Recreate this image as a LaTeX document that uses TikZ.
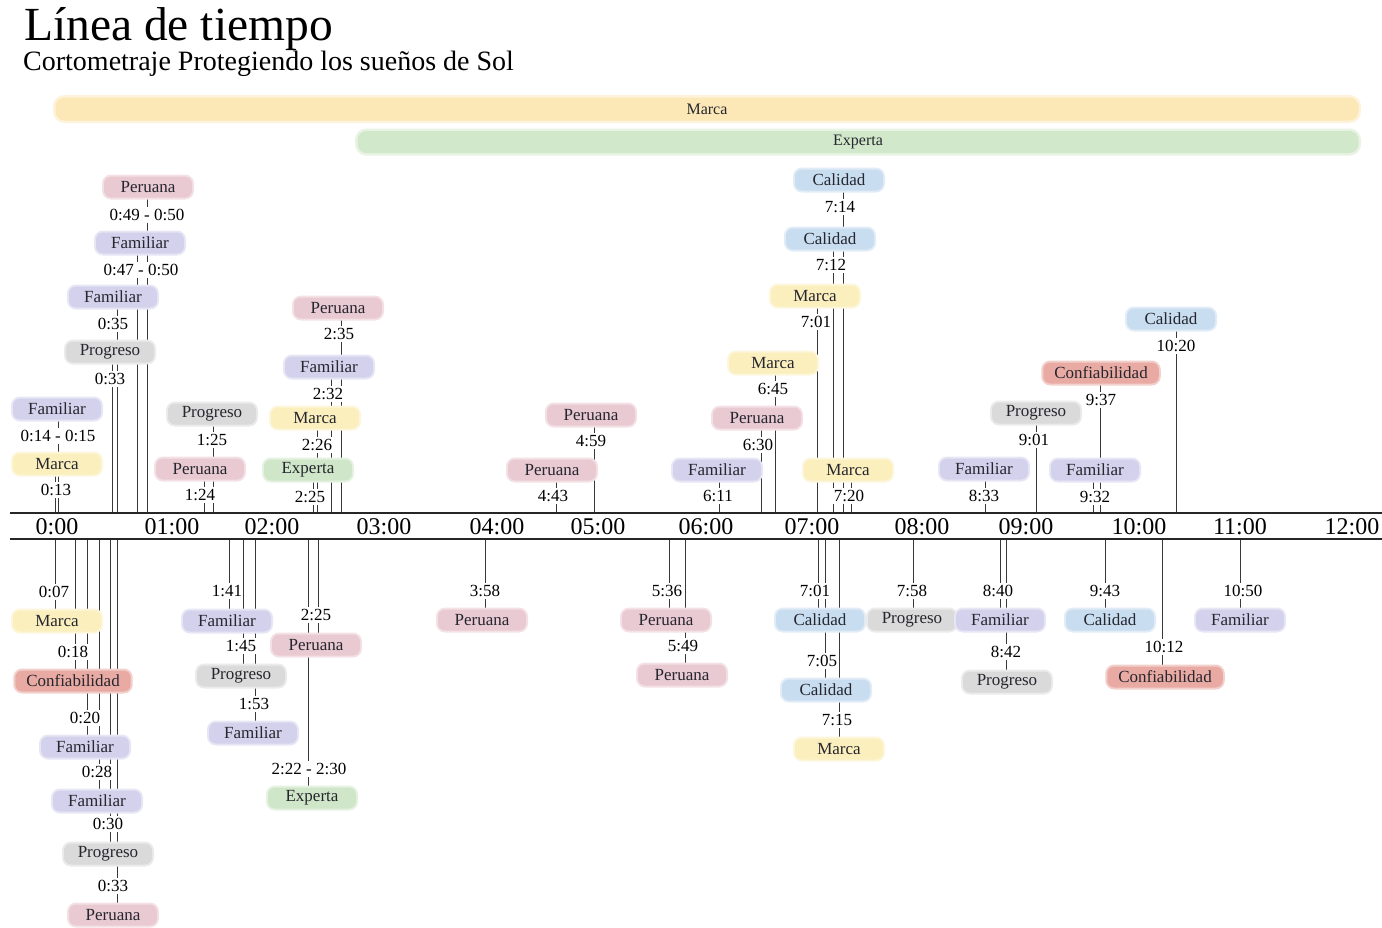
\documentclass[tikz,border=0pt]{standalone}
\usepackage{fontspec}
\setmainfont{Liberation Serif}
\usetikzlibrary{calc}
\pgfdeclarelayer{bg}
\pgfsetlayers{bg,main}
\definecolor{colMarca}{HTML}{FBEFBE}
\definecolor{colExperta}{HTML}{CFE7C8}
\definecolor{colPeruana}{HTML}{E9C9D2}
\definecolor{colFamiliar}{HTML}{D3D1EC}
\definecolor{colProgreso}{HTML}{DADADA}
\definecolor{colCalidad}{HTML}{C8DDF0}
\definecolor{colConfiabilidad}{HTML}{E8AAA3}
\definecolor{bandM}{HTML}{FCE8B6}
\definecolor{bandE}{HTML}{D2E8CA}
\definecolor{evtext}{HTML}{26262E}
\newcommand\evf{\fontsize{17pt}{19pt}\selectfont}
\newcommand\hrf{\fontsize{24pt}{26pt}\selectfont}
\tikzset{
  x=1pt, y=-1pt,
  ev/.style={rounded corners=7pt, minimum height=21pt, minimum width=88pt,
    inner xsep=11pt, inner ysep=0pt, font=\evf, text=evtext},
  cMarca/.style={fill=colMarca, preaction={draw=colMarca!55, line width=4pt}},
  cExperta/.style={fill=colExperta, preaction={draw=colExperta!55, line width=4pt}},
  cPeruana/.style={fill=colPeruana, preaction={draw=colPeruana!55, line width=4pt}},
  cFamiliar/.style={fill=colFamiliar, preaction={draw=colFamiliar!55, line width=4pt}},
  cProgreso/.style={fill=colProgreso, preaction={draw=colProgreso!55, line width=4pt}},
  cCalidad/.style={fill=colCalidad, preaction={draw=colCalidad!55, line width=4pt}},
  cConfiabilidad/.style={fill=colConfiabilidad, preaction={draw=colConfiabilidad!55, line width=4pt}},
  tl/.style={fill=white, inner xsep=1pt, inner ysep=2pt, font=\evf, text=black},
  evline/.style={draw=black!78, line width=1pt},
  axisline/.style={draw=black!85, line width=2pt},
  hour/.style={font=\hrf, text=black, inner sep=0pt},
  band/.style={rounded corners=9pt, inner sep=0pt, font=\fontsize{16pt}{18pt}\selectfont, text=evtext}
}
% #1 id, #2 category, #3 cx, #4 ny, #5 lx, #6 ly, #7 time, #8 line x
\newcommand\EvA[8]{%
  \node[ev,c#2] (n#1) at (#3,#4) {#2};
  \node[tl] (t#1) at (#5,#6) {#7};
  \coordinate (a#1) at (#8,513);
  \begin{pgfonlayer}{bg}\draw[evline] (a#1 |- n#1) -- (a#1);\end{pgfonlayer}
}
\newcommand\EvB[8]{%
  \node[ev,c#2] (n#1) at (#3,#4) {#2};
  \node[tl] (t#1) at (#5,#6) {#7};
  \coordinate (a#1) at (#8,539);
  \begin{pgfonlayer}{bg}\draw[evline] (a#1) -- (a#1 |- n#1);\end{pgfonlayer}
}
\begin{document}
\begin{tikzpicture}
\useasboundingbox (0,0) rectangle (1382,927);
\begin{pgfonlayer}{bg}
\fill[white] (0,0) rectangle (1382,927);
\end{pgfonlayer}

% title
\node[anchor=base west, inner sep=0pt, font=\fontsize{47.5pt}{50pt}\selectfont] (title) at (24,40) {Línea de tiempo};
\node[anchor=base west, inner sep=0pt, font=\fontsize{28pt}{30pt}\selectfont] (subtitle) at (23,70) {Cortometraje Protegiendo los sueños de Sol};

% bands
\node[band, fill=bandM, preaction={draw=bandM!50, line width=5pt}, minimum width=1303pt, minimum height=23pt] (bandMarca) at (707,109) {Marca};
\node[band, fill=bandE, preaction={draw=bandE!50, line width=5pt}, minimum width=1001pt, minimum height=22pt] (bandExperta) at (858,142) {Experta};

% axis
\coordinate (axTL) at (10,513);
\coordinate (axTR) at (1382,513);
\coordinate (axBL) at (10,539);
\coordinate (axBR) at (1382,539);
\draw[axisline] (axTL) -- (axTR);
\draw[axisline] (axBL) -- (axBR);
\foreach \x/\t [count=\i] in {57/0:00,172/01:00,272/02:00,384/03:00,497/04:00,598/05:00,706/06:00,812/07:00,922/08:00,1026/09:00,1139/10:00,1240/11:00,1352/12:00}
  \node[hour] (h\i) at (\x,527) {\t};

% events above the axis
\EvA{A1}{Marca}{57}{464}{56}{490}{0:13}{55}
\EvA{A2}{Familiar}{57}{409}{58}{436}{0:14 - 0:15}{58}
\EvA{A3}{Progreso}{110}{352}{110}{379}{0:33}{112}
\EvA{A4}{Familiar}{113}{297}{113}{324}{0:35}{117}
\EvA{A5}{Familiar}{140}{243}{141}{270}{0:47 - 0:50}{137}
\EvA{A6}{Peruana}{148}{187}{147}{215}{0:49 - 0:50}{147}
\EvA{A7}{Peruana}{200}{469}{200}{495}{1:24}{204}
\EvA{A8}{Progreso}{212}{414}{212}{440}{1:25}{213}
\EvA{A9}{Experta}{308}{470}{310}{497}{2:25}{313}
\EvA{A10}{Marca}{315}{418}{317}{445}{2:26}{317}
\EvA{A11}{Familiar}{329}{367}{328}{394}{2:32}{331}
\EvA{A12}{Peruana}{338}{308}{339}{334}{2:35}{341}
\EvA{A13}{Peruana}{552}{470}{553}{496}{4:43}{556}
\EvA{A14}{Peruana}{591}{415}{591}{441}{4:59}{594}
\EvA{A15}{Familiar}{717}{470}{718}{496}{6:11}{719}
\EvA{A16}{Peruana}{757}{418}{758}{445}{6:30}{761}
\EvA{A17}{Marca}{773}{363}{773}{389}{6:45}{775}
\EvA{A18}{Marca}{815}{296}{816}{322}{7:01}{817}
\EvA{A19}{Calidad}{830}{239}{831}{265}{7:12}{833}
\EvA{A20}{Calidad}{839}{180}{840}{207}{7:14}{843}
\EvA{A21}{Marca}{848}{470}{849}{496}{7:20}{851}
\EvA{A22}{Familiar}{984}{469}{984}{496}{8:33}{985}
\EvA{A23}{Progreso}{1036}{413}{1034}{440}{9:01}{1036}
\EvA{A24}{Familiar}{1095}{470}{1095}{497}{9:32}{1093}
\EvA{A25}{Confiabilidad}{1101}{373}{1101}{400}{9:37}{1100}
\EvA{A26}{Calidad}{1171}{319}{1176}{346}{10:20}{1176}

% events below the axis
\EvB{B1}{Marca}{57}{621}{54}{592}{0:07}{55}
\EvB{B2}{Confiabilidad}{73}{681}{73}{652}{0:18}{75}
\EvB{B3}{Familiar}{85}{747}{85}{718}{0:20}{87}
\EvB{B4}{Familiar}{97}{801}{97}{772}{0:28}{99}
\EvB{B5}{Progreso}{108}{854}{108}{824}{0:30}{110}
\EvB{B6}{Peruana}{113}{915}{113}{886}{0:33}{117}
\EvB{B7}{Familiar}{227}{621}{227}{591}{1:41}{229}
\EvB{B8}{Progreso}{241}{676}{241}{646}{1:45}{243}
\EvB{B9}{Familiar}{253}{733}{254}{704}{1:53}{255}
\EvB{B10}{Peruana}{316}{645}{316}{615}{2:25}{318}
\EvB{B11}{Experta}{312}{798}{309}{769}{2:22 - 2:30}{308}
\EvB{B12}{Peruana}{482}{620}{485}{591}{3:58}{485}
\EvB{B13}{Peruana}{666}{620}{667}{591}{5:36}{669}
\EvB{B14}{Peruana}{682}{675}{683}{646}{5:49}{685}
\EvB{B15}{Calidad}{820}{620}{815}{591}{7:01}{818}
\EvB{B16}{Calidad}{826}{690}{822}{661}{7:05}{825}
\EvB{B17}{Marca}{839}{749}{837}{720}{7:15}{839}
\EvB{B18}{Progreso}{912}{620}{912}{591}{7:58}{913}
\EvB{B19}{Familiar}{1000}{620}{998}{591}{8:40}{1000}
\EvB{B20}{Progreso}{1007}{682}{1006}{652}{8:42}{1006}
\EvB{B21}{Calidad}{1110}{620}{1105}{591}{9:43}{1105}
\EvB{B22}{Confiabilidad}{1165}{677}{1164}{647}{10:12}{1162}
\EvB{B23}{Familiar}{1240}{620}{1243}{591}{10:50}{1240}
\end{tikzpicture}
\end{document}
